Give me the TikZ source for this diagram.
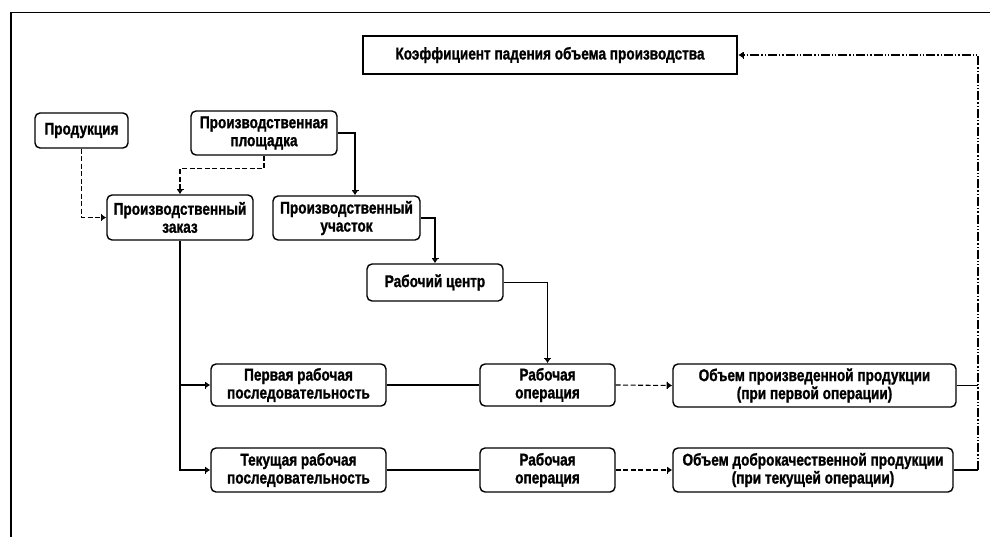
\documentclass[tikz,border=0pt]{standalone}
\usepackage{fontspec}
\setmainfont{Liberation Sans}[FakeStretch=0.8,BoldFeatures={FakeBold=1.2}]
\usetikzlibrary{arrows.meta,calc}
\begin{document}
\begin{tikzpicture}[x=1pt,y=-1pt,
  box/.style={draw,line width=1.4pt,rounded corners=5pt,align=center,inner sep=1pt,
    font=\fontsize{17}{18}\selectfont\bfseries},
  conn/.style={line width=1.1pt},
  arr/.style={conn,-{Bar[width=7pt,line width=1.2pt,sep=0pt] Latex[length=4.5pt,width=6pt]}},
  dsh/.style={dash pattern=on 5pt off 2.5pt},
  ddot/.style={dash pattern=on 9pt off 2pt on 1.3pt off 2pt on 1.3pt off 2pt}]
\useasboundingbox (0,0) rectangle (990,536);
% frame
\draw[line width=1.6pt] (11,540) -- (11,12.5) -- (995,12.5);
% nodes
\node[draw,line width=2.6pt,font=\fontsize{17}{18}\selectfont\bfseries,minimum width=374pt,minimum height=38pt,inner sep=1pt] (coef) at (550,55) {Коэффициент падения объема производства};
\node[box,minimum width=93pt,minimum height=35pt] (prod) at (81.5,130.5) {Продукция};
\node[box,minimum width=146pt,minimum height=44pt] (plosh) at (264,133) {Производственная\\площадка};
\node[box,minimum width=146pt,minimum height=45pt] (zakaz) at (180,217.5) {Производственный\\заказ};
\node[box,minimum width=147pt,minimum height=44pt] (uch) at (346.5,218) {Производственный\\участок};
\node[box,minimum width=136pt,minimum height=37pt] (rc) at (435,282.5) {Рабочий центр};
\node[box,minimum width=175pt,minimum height=42pt] (seq1) at (298.5,385) {Первая рабочая\\последовательность};
\node[box,minimum width=175pt,minimum height=44pt] (seq2) at (298.5,470) {Текущая рабочая\\последовательность};
\node[box,minimum width=135pt,minimum height=42pt] (op1) at (547.5,385) {Рабочая\\операция};
\node[box,minimum width=135pt,minimum height=44pt] (op2) at (547.5,470) {Рабочая\\операция};
\node[box,minimum width=283pt,minimum height=43pt] (vol1) at (814.5,385.5) {Объем произведенной продукции\\(при первой операции)};
\node[box,minimum width=280pt,minimum height=44pt] (vol2) at (813,470) {Объем доброкачественной продукции\\(при текущей операции)};
\coordinate (cr) at (978,55);
% connectors
\draw[arr,dsh] (prod.south) |- (zakaz.west);
\draw[arr,dsh] (plosh.south) -- ++(0,13) -| (zakaz.north);
\draw[arr] (plosh.east) -| ([xshift=8.5pt]uch.north);
\draw[arr] (uch.east) -| (rc.north);
\draw[arr] (rc.east) -| (op1.north);
\draw[arr] (zakaz.south) |- (seq1.west);
\draw[arr] (zakaz.south) |- (seq2.west);
\draw[conn] (seq1.east) -- (op1.west);
\draw[conn] (seq2.east) -- (op2.west);
\draw[arr,dsh] (op1.east) -- (vol1.west);
\draw[arr,dsh] (op2.east) -- (vol2.west);
\draw[conn] (vol1.east) -- (vol1.east -| cr);
\draw[conn] (vol2.east) -- (vol2.east -| cr);
\draw[arr,ddot] (vol2.east -| cr) -- (cr) -- (coef.east);
\end{tikzpicture}
\end{document}
